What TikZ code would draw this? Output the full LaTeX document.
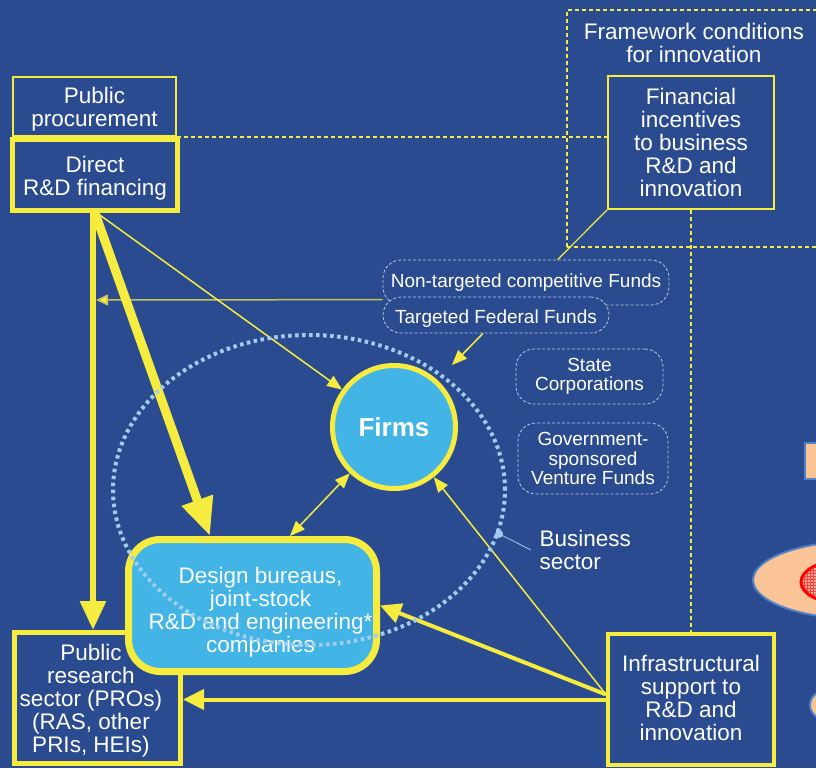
\documentclass[tikz,border=0pt]{standalone}
\usepackage{fontspec}
\setmainfont{Liberation Sans}
\usetikzlibrary{arrows.meta,shapes.geometric,patterns}
\definecolor{bgblue}{RGB}{42,75,143}
\definecolor{ylw}{RGB}{246,236,63}
\definecolor{ylwdim}{RGB}{200,194,90}
\definecolor{cyanfill}{RGB}{66,180,230}
\definecolor{dotblue}{RGB}{160,205,238}
\definecolor{fundline}{RGB}{185,200,228}
\definecolor{peach}{RGB}{250,196,150}
\definecolor{peachedge}{RGB}{80,130,200}
\definecolor{pinkfill}{RGB}{248,170,150}
\begin{document}
\begin{tikzpicture}[x=1pt,y=-1pt,
  txt/.style={text=white,font=\fontsize{22.5}{23}\selectfont,align=center},
  small/.style={text=white,font=\fontsize{19}{19.5}\selectfont,align=center},
  thinbox/.style={draw=ylw,line width=2pt,inner sep=0pt},
  thickbox/.style={draw=ylw,line width=5pt,inner sep=0pt},
  fundbox/.style={draw=fundline,line width=0.8pt,dash pattern=on 3pt off 2pt,rounded corners=18pt,inner sep=0pt},
  fwline/.style={draw=ylw,line width=1.5pt,dash pattern=on 4pt off 3pt},
  thinarrow/.style={draw=ylw,line width=1.5pt,-{Triangle[length=15pt,width=12pt]}},
  twoway/.style={draw=ylw,line width=1.5pt,{Triangle[length=15pt,width=12pt]}-{Triangle[length=15pt,width=12pt]}},
  dimarrow/.style={draw=ylwdim,line width=1.5pt,-{Triangle[length=12pt,width=11pt,fill=ylw]}},
  medarrow/.style={draw=ylw,line width=4pt,-{Triangle[length=21pt,width=20pt]}},
  bigarrow/.style={draw=ylw,line width=6pt,-{Triangle[length=29pt,width=25pt]}},
  hugearrow/.style={draw=ylw,line width=9pt,-{Triangle[length=38pt,width=31pt]}},
  peachshape/.style={draw=peachedge,line width=2pt,fill=peach}
]
\useasboundingbox (0,0) rectangle (816,768);
\fill[bgblue] (0,0) rectangle (816,768);
\clip (0,0) rectangle (816,768);

% shapes at the right margin
\draw[peachshape] (805,443) rectangle (845,479);
\draw[peachshape] (860,580) ellipse [x radius=107pt,y radius=39pt];
\fill[pinkfill] (840,582) ellipse [x radius=39pt,y radius=21pt];
\fill[pattern=grid,pattern color=red!75] (840,582) ellipse [x radius=39pt,y radius=21pt];
\draw[red,line width=3pt] (840,582) ellipse [x radius=39pt,y radius=21pt];
\draw[peachshape] (836,705) ellipse [x radius=26pt,y radius=18pt];

% framework conditions frame
\draw[fwline] (567,247) -- (567,10) -- (830,10);
\draw[fwline] (567,247) -- (830,247);

% policy boxes
\node[thinbox,minimum width=163pt,minimum height=59pt,
  label={[txt,yshift=-3pt]center:Public\\procurement}] (procure) at (94.5,106.5) {};
\node[thickbox,minimum width=165pt,minimum height=71pt,
  label={[txt,yshift=-3pt]center:Direct\\R\&D financing}] (direct) at (95,175) {};
\node[thinbox,txt,minimum width=166pt,minimum height=133pt] (fin) at (691,142.5) {Financial\\incentives\\to business\\R\&D and\\innovation};
\node[txt] (fwtitle) at (694,42.5) {Framework conditions\\for innovation};
\node[draw=ylw,line width=4pt,inner sep=0pt,minimum width=166pt,minimum height=131pt,
  label={[txt,yshift=1.5pt]center:Infrastructural\\support to\\R\&D and\\innovation}] (infra) at (691,699.5) {};

\draw[fwline] (procure.south east) -- (procure.south east -| fin.west);
\draw[fwline] (fin.south) -- (infra.north);

% funding instruments
\node[fundbox,small,minimum width=286pt,minimum height=45pt] (nontarget) at (526,282.5) {Non-targeted competitive Funds};
\node[fundbox,fill=bgblue,minimum width=226pt,minimum height=36pt,
  label={[small,yshift=-4pt]center:Targeted Federal Funds}] (target) at (496,315) {};
\node[fundbox,small,minimum width=147pt,minimum height=55pt] (statecorp) at (589.5,376.5) {State\\Corporations};
\node[fundbox,small,minimum width=150pt,minimum height=71pt] (venture) at (593,458.5) {Government-\\sponsored\\Venture Funds};

% actors
\node[thickbox,minimum width=166pt,minimum height=131pt,
  label={[txt,xshift=-6.5pt,yshift=-2.5pt]center:Public\\research\\sector (PROs)\\(RAS, other\\PRIs, HEIs)}] (research) at (97.5,698) {};
\node[draw=ylw,line width=7pt,fill=cyanfill,rounded corners=32pt,minimum width=248pt,minimum height=132pt,inner sep=0pt,
  label={[txt,xshift=8pt,yshift=-7pt]center:Design bureaus,\\joint-stock\\R\&D and engineering*\\companies}] (design) at (252.5,605.5) {};
\node[circle,draw=ylw,line width=5pt,fill=cyanfill,minimum size=123pt,inner sep=0pt,text=white,
  font=\fontsize{26}{28}\selectfont\bfseries] (firms) at (394,427) {Firms};

% flows
\coordinate (tfend) at (96,300);
\coordinate (tgtip) at (452,365);
\draw[ylw,line width=1.2pt] (fin.south west) -- ([xshift=175pt]nontarget.north west);
\draw[dimarrow] ([yshift=-3pt]target.north west) -- (tfend);
\draw[thinarrow] ([xshift=-13pt]target.south) -- (tgtip);
\draw[bigarrow] ([xshift=-2pt]direct.south) -- ([xshift=-2pt]direct.south |- research.north);
\draw[hugearrow] (direct.south) -- ([xshift=-42.5pt]design.north);
\draw[thinarrow] ([xshift=2pt]direct.south) -- (firms);
\draw[twoway] ([xshift=37.5pt]design.north) -- (firms);
\draw[thinarrow] ([yshift=5pt]infra.west) -- (firms);
\draw[medarrow] ([yshift=5pt]infra.west) -- (design.east);
\draw[medarrow] (infra.west) -- (infra.west -| research.east);

% business sector boundary
\node[ellipse,draw=dotblue,line width=4pt,dash pattern=on 3.5pt off 3.5pt,minimum width=392pt,minimum height=310pt,inner sep=0pt] (business) at (309,490) {};
\node[txt,align=left,anchor=west] (bizlabel) at (536,550) {Business\\sector};
\coordinate (bizdot) at (business.-13.3);
\draw[dotblue,line width=0.8pt] (bizdot) -- ([xshift=-5pt]bizlabel.west);
\fill[dotblue] (bizdot) circle (4pt);
\end{tikzpicture}
\end{document}
